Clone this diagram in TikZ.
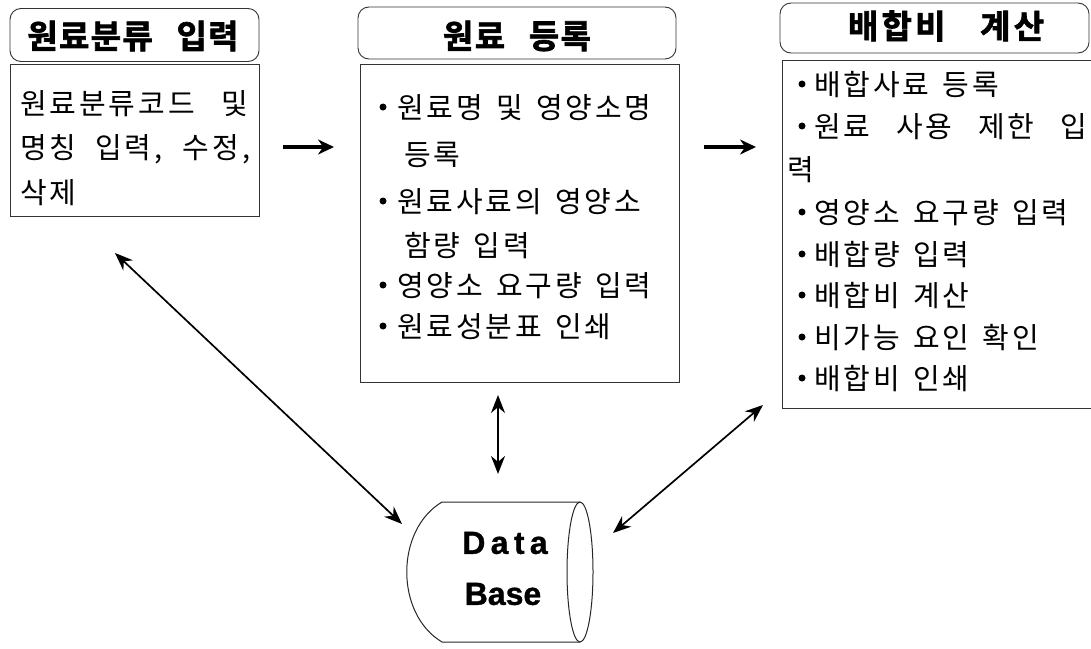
\documentclass[tikz,border=0pt]{standalone}
\usepackage{fontspec}
\setmainfont{Liberation Sans}[BoldFeatures={FakeBold=1}]
\newfontfamily\kr{Noto Sans CJK KR}[LetterSpace=10,WordSpace=1.4]
\newfontfamily\krb{Noto Sans CJK KR Bold}[LetterSpace=4,WordSpace=2.7,FakeBold=2]
\newfontfamily\krbwide{Noto Sans CJK KR Bold}[LetterSpace=10,WordSpace=3.2,FakeBold=2]
\usetikzlibrary{arrows.meta}

\tikzset{
  frame/.style={draw=black!80, line width=0.9pt, inner sep=0pt},
  titlebox/.style={frame, rounded corners=11pt},
  titletext/.style={font=\krb\fontsize{33}{33}\selectfont, inner sep=0pt},
  bodytext/.style={font=\kr\fontsize{29}{29}\selectfont, anchor=base west, inner sep=0pt},
  dot/.style={circle, fill=black, inner sep=0pt, minimum size=7pt},
  flow/.style={line width=3.5pt, -{Stealth[length=16pt,width=15pt]}},
  link/.style={line width=1.7pt, {Stealth[length=18pt,width=14pt]}-{Stealth[length=18pt,width=14pt]}},
  dbtext/.style={font=\bfseries\fontsize{32}{32}\selectfont, inner sep=0pt},
}

\begin{document}
\begin{tikzpicture}[x=1pt,y=-1pt]
\useasboundingbox (0,0) rectangle (1091,648);

% ---- classification input ----
\node[titlebox, minimum width=249pt, minimum height=53pt] (t1) at (134.5,35) {};
\node[titletext] (t1txt) at (133,36) {원료분류 입력};
\node[frame, minimum width=249pt, minimum height=152pt] (b1) at (134.5,140) {};
\node[bodytext] (b1l1) at (20,114) {\makebox[228pt][s]{원료분류코드 및}};
\node[bodytext] (b1l2) at (20,158) {\makebox[230pt][s]{명칭 입력, 수정,}};
\node[bodytext] (b1l3) at (20,203) {삭제};

% ---- ingredient registration ----
\node[titlebox, minimum width=318pt, minimum height=52pt] (t2) at (517,33) {};
\node[titletext] (t2txt) at (517,36) {원료 등록};
\node[frame, minimum width=319pt, minimum height=318pt] (b2) at (519.5,223) {};
\node[dot] (d21) at (383,107) {};
\node[bodytext] (b2l1) at (397,118) {원료명 및 영양소명};
\node[bodytext] (b2l2) at (404,165) {등록};
\node[dot] (d22) at (383,201) {};
\node[bodytext] (b2l3) at (397,212) {원료사료의 영양소};
\node[bodytext] (b2l4) at (404,256) {함량 입력};
\node[dot] (d23) at (383,285) {};
\node[bodytext] (b2l5) at (397,296) {영양소 요구량 입력};
\node[dot] (d24) at (383,326) {};
\node[bodytext] (b2l6) at (397,337) {원료성분표 인쇄};

% ---- ration calculation ----
\node[titlebox, minimum width=309pt, minimum height=50pt] (t3) at (934.5,28) {};
\node[titletext, font=\krbwide\fontsize{33}{33}\selectfont] (t3txt) at (946,26) {배합비 계산};
\node[frame, minimum width=320pt, minimum height=348pt, anchor=north west] (b3) at (782,60) {};
\node[dot] (d31) at (802,84) {};
\node[bodytext] (b3l1) at (814,95) {배합사료 등록};
\node[dot] (d32) at (802,126) {};
\node[bodytext] (b3l2) at (814,137) {\makebox[273pt][s]{원료 사용 제한 입}};
\node[bodytext] (b3l3) at (787,180) {력};
\node[dot] (d33) at (802,212) {};
\node[bodytext] (b3l4) at (814,223) {영양소 요구량 입력};
\node[dot] (d34) at (802,254) {};
\node[bodytext] (b3l5) at (814,265) {배합량 입력};
\node[dot] (d35) at (802,295) {};
\node[bodytext] (b3l6) at (814,306) {배합비 계산};
\node[dot] (d36) at (802,337) {};
\node[bodytext] (b3l7) at (814,348) {비가능 요인 확인};
\node[dot] (d37) at (802,378) {};
\node[bodytext] (b3l8) at (814,389) {배합비 인쇄};

% ---- database cylinder ----
\draw[black!85, line width=1pt]
  (442,502) -- (580,502)
  (442,642) -- (580,642)
  (442,502) .. controls (395,530) and (395,614) .. (442,642);
\draw[black!85, line width=1pt] (580,572) ellipse [x radius=13, y radius=70];
\node[dbtext] (dbt1) at (505,543) {D\,a\,t\,a};
\node[dbtext] (dbt2) at (503,594) {Base};
\coordinate (db) at (500,572);

% ---- connectors ----
\coordinate (a1s) at (283,147);
\coordinate (a1e) at (334,147);
\coordinate (a2s) at (704,147);
\coordinate (a2e) at (756,147);
\draw[flow] (a1s) -- (a1e);
\draw[flow] (a2s) -- (a2e);

\coordinate (l1) at (115,253);
\coordinate (l2) at (402,524);
\draw[link] (l1) -- (l2);

\coordinate (v1) at (498,395);
\coordinate (v2) at (498,474);
\draw[link] (v1) -- (v2);

\coordinate (r1) at (763,405);
\coordinate (r2) at (613,533);
\draw[link] (r1) -- (r2);
\end{tikzpicture}
\end{document}
